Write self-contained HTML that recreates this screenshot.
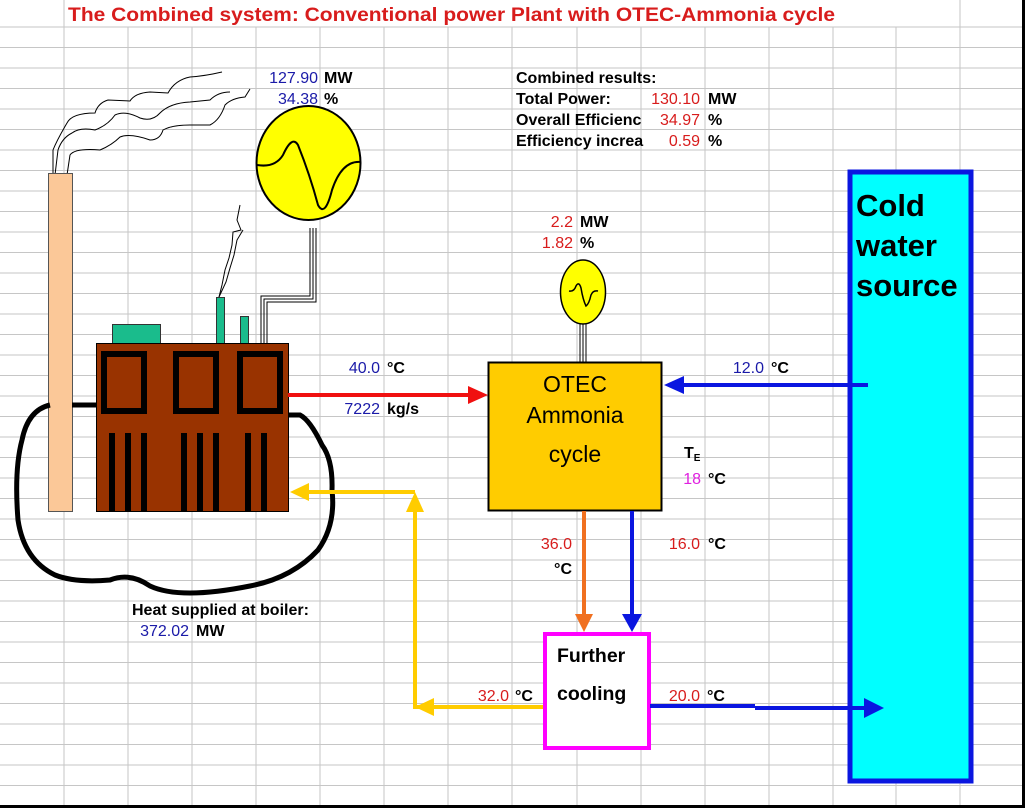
<!DOCTYPE html>
<html><head><meta charset="utf-8"><style>
html,body{margin:0;padding:0;background:#fff;}
svg{display:block;}
text{font-family:"Liberation Sans",Arial,sans-serif;font-size:16px;}
.b{font-weight:bold;}
.blue{fill:#1a1aa8;}
.red{fill:#d81c1c;}
</style></head><body>
<svg width="1025" height="808" viewBox="0 0 1025 808" xmlns="http://www.w3.org/2000/svg">
<rect width="1025" height="808" fill="#fff"/>
<g stroke="#c6c6c6" stroke-width="1">
<line x1="0" y1="27" x2="1025" y2="27"/><line x1="0" y1="47.5" x2="1025" y2="47.5"/><line x1="0" y1="68" x2="1025" y2="68"/><line x1="0" y1="88.5" x2="1025" y2="88.5"/><line x1="0" y1="109" x2="1025" y2="109"/><line x1="0" y1="129.5" x2="1025" y2="129.5"/><line x1="0" y1="150" x2="1025" y2="150"/><line x1="0" y1="170.5" x2="1025" y2="170.5"/><line x1="0" y1="191" x2="1025" y2="191"/><line x1="0" y1="211.5" x2="1025" y2="211.5"/><line x1="0" y1="232" x2="1025" y2="232"/><line x1="0" y1="252.5" x2="1025" y2="252.5"/><line x1="0" y1="273" x2="1025" y2="273"/><line x1="0" y1="293.5" x2="1025" y2="293.5"/><line x1="0" y1="314" x2="1025" y2="314"/><line x1="0" y1="334.5" x2="1025" y2="334.5"/><line x1="0" y1="355" x2="1025" y2="355"/><line x1="0" y1="375.5" x2="1025" y2="375.5"/><line x1="0" y1="396" x2="1025" y2="396"/><line x1="0" y1="416.5" x2="1025" y2="416.5"/><line x1="0" y1="437" x2="1025" y2="437"/><line x1="0" y1="457.5" x2="1025" y2="457.5"/><line x1="0" y1="478" x2="1025" y2="478"/><line x1="0" y1="498.5" x2="1025" y2="498.5"/><line x1="0" y1="519" x2="1025" y2="519"/><line x1="0" y1="539.5" x2="1025" y2="539.5"/><line x1="0" y1="560" x2="1025" y2="560"/><line x1="0" y1="580.5" x2="1025" y2="580.5"/><line x1="0" y1="601" x2="1025" y2="601"/><line x1="0" y1="621.5" x2="1025" y2="621.5"/><line x1="0" y1="642" x2="1025" y2="642"/><line x1="0" y1="662.5" x2="1025" y2="662.5"/><line x1="0" y1="683" x2="1025" y2="683"/><line x1="0" y1="703.5" x2="1025" y2="703.5"/><line x1="0" y1="724" x2="1025" y2="724"/><line x1="0" y1="744.5" x2="1025" y2="744.5"/><line x1="0" y1="765" x2="1025" y2="765"/><line x1="0" y1="785.5" x2="1025" y2="785.5"/>
<line x1="64" y1="0" x2="64" y2="808"/><line x1="128" y1="27" x2="128" y2="808"/><line x1="192" y1="27" x2="192" y2="808"/><line x1="256" y1="27" x2="256" y2="808"/><line x1="320" y1="27" x2="320" y2="808"/><line x1="384" y1="27" x2="384" y2="808"/><line x1="448" y1="27" x2="448" y2="808"/><line x1="512" y1="27" x2="512" y2="808"/><line x1="577" y1="27" x2="577" y2="808"/><line x1="641" y1="27" x2="641" y2="808"/><line x1="705" y1="27" x2="705" y2="808"/><line x1="769" y1="27" x2="769" y2="808"/><line x1="833" y1="27" x2="833" y2="808"/><line x1="896" y1="27" x2="896" y2="808"/><line x1="960" y1="0" x2="960" y2="808"/>
</g>
<rect x="0" y="805" width="1025" height="3" fill="#000"/>
<rect x="1022" y="0" width="3" height="808" fill="#000"/>

<text x="68" y="21" class="b" textLength="767" lengthAdjust="spacingAndGlyphs" style="font-size:19px;fill:#d81c1c">The Combined system: Conventional power Plant with OTEC-Ammonia cycle</text>

<!-- smoke -->
<g fill="none" stroke="#000" stroke-width="1">
<path d="M53,175 L53,150 Q57,140 67,123 Q72,113 95,113 Q98,103 108,100 L130,101 Q135,93 150,92 L168,93 Q175,80 190,77 Q205,76 222,72"/>
<path d="M55,175 L58,150 Q62,138 72,133 Q80,127 95,130 Q108,125 115,115 Q125,110 140,118 Q152,122 160,113 Q170,103 190,102 L210,100 Q218,92 230,92"/>
<path d="M67,175 L70,155 Q75,148 100,150 Q112,145 120,137 Q130,133 150,140 Q160,140 163,130 Q172,125 190,125 L210,125 Q220,120 225,105 Q232,98 245,97 L250,89"/>
<path d="M219,297 L222,285 L225,270 L229,258 L232,245 L233,232 L241,230 L237,220 L240,205"/>
<path d="M219,297 L226,282 L230,268 L234,255 L237,240 L243,230"/>
</g>
<!-- chimney -->
<rect x="48.5" y="173.5" width="24" height="338" fill="#fbc898" stroke="#555" stroke-width="1"/>
<!-- loop -->
<path d="M50,405 Q28,410 22,440 Q14,470 18,520 Q24,560 55,575 Q75,583 110,580 Q130,572 150,586 Q180,600 250,586 Q292,578 318,550 Q336,525 332,490 Q333,460 322,445 Q310,420 300,415 L288,415" fill="none" stroke="#000" stroke-width="5"/>
<line x1="72" y1="405" x2="96" y2="405" stroke="#000" stroke-width="5"/>
<!-- boiler -->
<rect x="112.5" y="324.5" width="48" height="19" fill="#1abc8c" stroke="#333" stroke-width="1"/>
<rect x="216.5" y="297.5" width="8" height="46" fill="#1abc8c" stroke="#333" stroke-width="1"/>
<rect x="240.5" y="316.5" width="8" height="27" fill="#1abc8c" stroke="#333" stroke-width="1"/>
<rect x="96.5" y="343.5" width="192" height="168" fill="#993300" stroke="#000" stroke-width="1"/>
<g fill="none" stroke="#000" stroke-width="6">
<rect x="104" y="354" width="40" height="57"/>
<rect x="176" y="354" width="40" height="57"/>
<rect x="240" y="354" width="40" height="57"/>
</g>
<g fill="#000">
<rect x="109" y="433" width="6" height="78"/><rect x="125" y="433" width="6" height="78"/><rect x="141" y="433" width="6" height="78"/>
<rect x="181" y="433" width="6" height="78"/><rect x="197" y="433" width="6" height="78"/><rect x="213" y="433" width="6" height="78"/>
<rect x="245" y="433" width="6" height="78"/><rect x="261" y="433" width="6" height="78"/>
</g>
<!-- wires to big gen -->
<g fill="none" stroke="#000" stroke-width="1">
<path d="M261,343 L261,296 L310,296 L310,228"/>
<path d="M264,343 L264,299 L313,299 L313,228"/>
<path d="M267,343 L267,302 L316,302 L316,228"/>
</g>
<ellipse cx="308.5" cy="163" rx="52" ry="57" fill="#ffff00" stroke="#000" stroke-width="2"/>
<path d="M257,165 Q275,168 283,155 Q292,135 298,145 Q310,175 318,205 Q325,218 332,190 Q342,160 361,162" fill="none" stroke="#000" stroke-width="2"/>
<!-- small gen -->
<g stroke="#000" stroke-width="1"><line x1="580" y1="324" x2="580" y2="362"/><line x1="583" y1="324" x2="583" y2="362"/><line x1="586" y1="324" x2="586" y2="362"/></g>
<ellipse cx="583" cy="292" rx="22.5" ry="32" fill="#ffff00" stroke="#000" stroke-width="1.5"/>
<path d="M569,291 Q574,292 576,286 Q579,281 581,288 Q583,300 586,306 Q589,304 591,295 Q593,290 598,291" fill="none" stroke="#000" stroke-width="1.5"/>
<!-- OTEC -->
<rect x="488.5" y="362.5" width="173" height="148" fill="#ffcc00" stroke="#000" stroke-width="2"/>
<text x="575" y="392" text-anchor="middle" style="font-size:23px">OTEC</text>
<text x="575" y="423" text-anchor="middle" style="font-size:23px">Ammonia</text>
<text x="575" y="462" text-anchor="middle" style="font-size:23px">cycle</text>
<!-- Cold water -->
<rect x="850" y="172" width="121" height="609" fill="#00ffff" stroke="#0a16e0" stroke-width="5"/>
<text x="856" y="216" class="b" style="font-size:31px">Cold</text>
<text x="856" y="256" class="b" style="font-size:31px">water</text>
<text x="856" y="296" class="b" style="font-size:31px">source</text>
<!-- Further cooling -->
<rect x="545" y="634" width="104" height="114" fill="#fff" stroke="#ff00ff" stroke-width="4"/>
<text x="557" y="662" class="b" style="font-size:19.5px">Further</text>
<text x="557" y="700" class="b" style="font-size:19.5px">cooling</text>
<!-- arrows -->
<line x1="288" y1="395" x2="472" y2="395" stroke="#f01010" stroke-width="4"/>
<polygon points="468,386 488,395 468,404" fill="#f01010"/>
<line x1="868" y1="385" x2="680" y2="385" stroke="#0a16e0" stroke-width="4"/>
<polygon points="684,376 664,385 684,394" fill="#0a16e0"/>
<line x1="584" y1="511" x2="584" y2="617" stroke="#f07020" stroke-width="4"/>
<polygon points="575,614 584,632 593,614" fill="#f07020"/>
<line x1="632" y1="511" x2="632" y2="617" stroke="#0a16e0" stroke-width="4"/>
<polygon points="622,614 632,632 642,614" fill="#0a16e0"/>
<path d="M543,707 L415,707 L415,505" fill="none" stroke="#ffcc00" stroke-width="4"/>
<polygon points="406,512 415,492 424,512" fill="#ffcc00"/>
<polygon points="434,698 415,707 434,716" fill="#ffcc00"/>
<line x1="415" y1="492" x2="306" y2="492" stroke="#ffcc00" stroke-width="4"/>
<polygon points="309,483 290,492 309,501" fill="#ffcc00"/>
<line x1="650" y1="706" x2="755" y2="706" stroke="#0a16e0" stroke-width="4"/>
<line x1="755" y1="708" x2="868" y2="708" stroke="#0a16e0" stroke-width="4"/>
<polygon points="864,698 884,708 864,718" fill="#0a16e0"/>
<!-- labels -->
<text x="318" y="83" text-anchor="end" class="blue">127.90</text><text x="324" y="83" class="b">MW</text>
<text x="318" y="104" text-anchor="end" class="blue">34.38</text><text x="324" y="104" class="b">%</text>
<text x="516" y="83" class="b">Combined results:</text>
<text x="516" y="104" class="b">Total Power:</text><text x="700" y="104" text-anchor="end" class="red">130.10</text><text x="708" y="104" class="b">MW</text>
<text x="516" y="125" class="b">Overall Efficienc</text><text x="700" y="125" text-anchor="end" class="red">34.97</text><text x="708" y="125" class="b">%</text>
<text x="516" y="146" class="b">Efficiency increa</text><text x="700" y="146" text-anchor="end" class="red">0.59</text><text x="708" y="146" class="b">%</text>
<text x="573" y="227" text-anchor="end" class="red">2.2</text><text x="580" y="227" class="b">MW</text>
<text x="573" y="248" text-anchor="end" class="red">1.82</text><text x="580" y="248" class="b">%</text>
<text x="380" y="373" text-anchor="end" class="blue">40.0</text><text x="387" y="373" class="b">°C</text>
<text x="380" y="414" text-anchor="end" class="blue">7222</text><text x="387" y="414" class="b">kg/s</text>
<text x="764" y="373" text-anchor="end" class="blue">12.0</text><text x="771" y="373" class="b">°C</text>
<text x="684" y="458" class="b">T<tspan style="font-size:10px" dy="3">E</tspan></text>
<text x="701" y="484" text-anchor="end" style="fill:#e020e0">18</text><text x="708" y="484" class="b">°C</text>
<text x="572" y="549" text-anchor="end" class="red">36.0</text>
<text x="572" y="574" text-anchor="end" class="b">°C</text>
<text x="700" y="549" text-anchor="end" class="red">16.0</text><text x="708" y="549" class="b">°C</text>
<text x="132" y="615" class="b">Heat supplied at boiler:</text>
<text x="189" y="636" text-anchor="end" class="blue">372.02</text><text x="196" y="636" class="b">MW</text>
<text x="509" y="701" text-anchor="end" class="red">32.0</text><text x="515" y="701" class="b">°C</text>
<text x="700" y="701" text-anchor="end" class="red">20.0</text><text x="707" y="701" class="b">°C</text>
</svg>
</body></html>
